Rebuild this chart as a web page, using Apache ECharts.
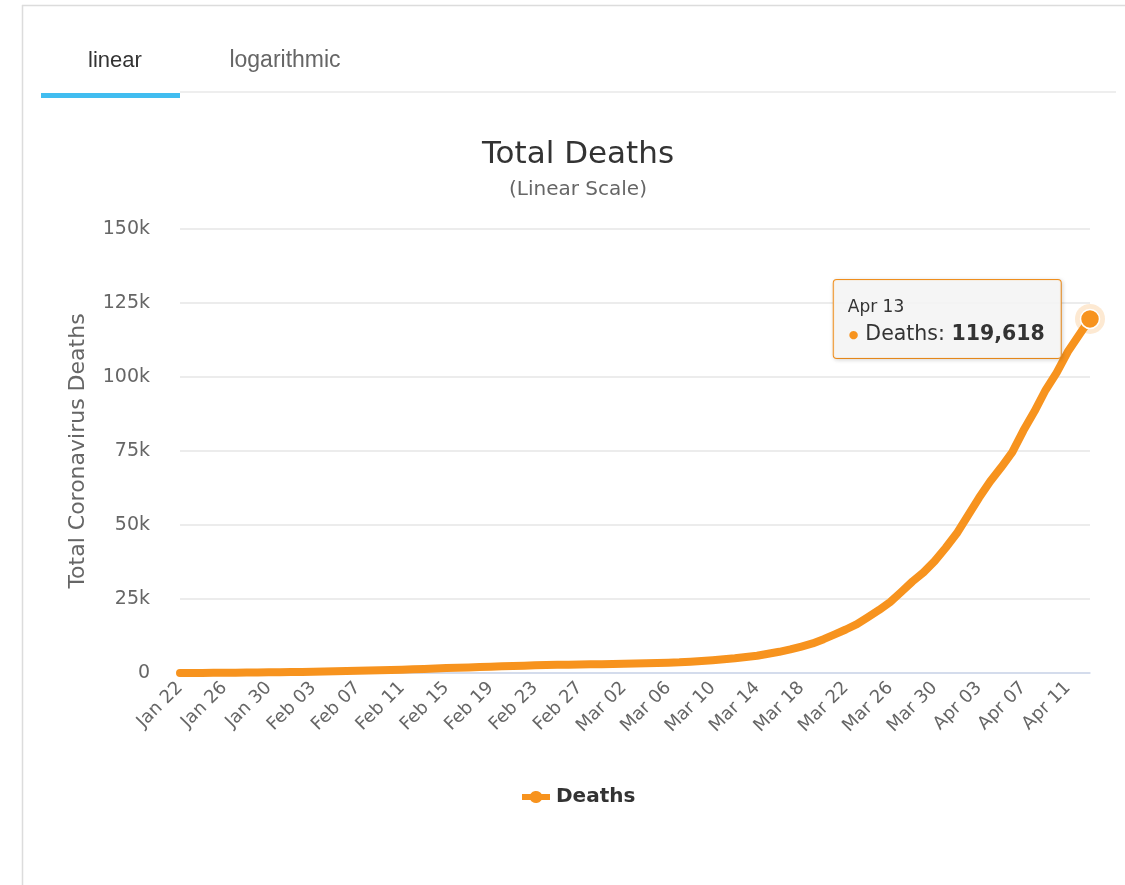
<!DOCTYPE html>
<html>
<head>
<meta charset="utf-8">
<title>Total Deaths</title>
<script src="https://cdn.jsdelivr.net/npm/echarts@6/dist/echarts.min.js"></script>
<style>
  html, body { margin: 0; padding: 0; background: #fff; }
  #chart { width: 1125px; height: 885px; }
</style>
</head>
<body>
<div id="chart"></div>
<script>
// Daily dates, Jan 22 – Apr 13
const categories = [
  'Jan 22','Jan 23','Jan 24','Jan 25','Jan 26','Jan 27','Jan 28','Jan 29','Jan 30','Jan 31',
  'Feb 01','Feb 02','Feb 03','Feb 04','Feb 05','Feb 06','Feb 07','Feb 08','Feb 09','Feb 10',
  'Feb 11','Feb 12','Feb 13','Feb 14','Feb 15','Feb 16','Feb 17','Feb 18','Feb 19','Feb 20',
  'Feb 21','Feb 22','Feb 23','Feb 24','Feb 25','Feb 26','Feb 27','Feb 28','Feb 29',
  'Mar 01','Mar 02','Mar 03','Mar 04','Mar 05','Mar 06','Mar 07','Mar 08','Mar 09','Mar 10',
  'Mar 11','Mar 12','Mar 13','Mar 14','Mar 15','Mar 16','Mar 17','Mar 18','Mar 19','Mar 20',
  'Mar 21','Mar 22','Mar 23','Mar 24','Mar 25','Mar 26','Mar 27','Mar 28','Mar 29','Mar 30','Mar 31',
  'Apr 01','Apr 02','Apr 03','Apr 04','Apr 05','Apr 06','Apr 07','Apr 08','Apr 09','Apr 10',
  'Apr 11','Apr 12','Apr 13'
];

// Cumulative deaths per day
const deaths = [
  17, 25, 41, 56, 80, 106, 132, 170, 213, 259,
  304, 362, 426, 492, 565, 638, 724, 813, 910, 1018,
  1115, 1261, 1383, 1526, 1669, 1775, 1873, 2009, 2126, 2247,
  2360, 2460, 2618, 2699, 2763, 2800, 2858, 2923, 2977,
  3050, 3117, 3202, 3285, 3387, 3494, 3599, 3827, 4025, 4296,
  4628, 4981, 5428, 5833, 6520, 7162, 7979, 8951, 9985, 11433,
  13041, 14700, 16500, 18900, 21300, 24000, 27400, 30900, 34000, 37800, 42300,
  47200, 53200, 59200, 64700, 69500, 74600, 81900, 88400, 95600, 101500,
  108500, 114100, 119618
];

// Y-axis ticks
const yTicks = [0, 25000, 50000, 75000, 100000, 125000, 150000];

const ORANGE = '#f7931e';
const FONT = 'DejaVu Sans';
const last = deaths.length - 1;
const lastDate = categories[last].replace(/ 0(\d)$/, ' $1');

const chart = echarts.init(document.getElementById('chart'), null, { renderer: 'canvas' });

const option = {
  animation: false,
  backgroundColor: '#fff',
  title: {
    text: 'Total Deaths',
    subtext: '(Linear Scale)',
    left: 573,
    textAlign: 'center',
    top: 134,
    itemGap: 10,
    textStyle: { fontFamily: FONT, fontSize: 31, fontWeight: 'normal', color: '#333' },
    subtextStyle: { fontFamily: FONT, fontSize: 20, color: '#666' }
  },
  legend: {
    data: ['Deaths'],
    left: 520,
    top: 787,
    padding: 0,
    itemWidth: 30,
    itemHeight: 16,
    itemGap: 10,
    icon: 'path://M0,4H9A7.5,7.5 0 0,1 21,4H30V12H21A7.5,7.5 0 0,1 9,12H0Z',
    textStyle: { fontFamily: FONT, fontSize: 20, fontWeight: 'bold', color: '#333' }
  },
  grid: { left: 180, right: 35, top: 229, bottom: 212 },
  xAxis: {
    type: 'category',
    data: categories,
    boundaryGap: false,
    axisLine: { show: true, lineStyle: { color: '#ccd6eb', width: 1.5 } },
    axisTick: { show: false },
    axisLabel: {
      interval: 3,
      rotate: 45,
      margin: 12,
      fontFamily: FONT,
      fontSize: 18,
      color: '#666'
    },
    splitLine: { show: false }
  },
  yAxis: {
    type: 'value',
    min: yTicks[0],
    max: yTicks[yTicks.length - 1],
    interval: yTicks[1] - yTicks[0],
    name: 'Total Coronavirus Deaths',
    nameLocation: 'middle',
    nameGap: 91,
    nameTextStyle: { fontFamily: FONT, fontSize: 22, color: '#666' },
    axisLine: { show: false },
    axisTick: { show: false },
    axisLabel: {
      margin: 30,
      fontFamily: FONT,
      fontSize: 19,
      color: '#666',
      formatter: v => v === 0 ? '0' : (v / 1000) + 'k'
    },
    splitLine: { lineStyle: { color: '#e6e6e6', width: 1.5 } }
  },
  graphic: [
    // card borders
    { type: 'line', shape: { x1: 22, y1: 5.5, x2: 1125, y2: 5.5 }, style: { stroke: '#dcdcdc', lineWidth: 1.5 } },
    { type: 'line', shape: { x1: 22.5, y1: 5, x2: 22.5, y2: 885 }, style: { stroke: '#dcdcdc', lineWidth: 1.5 } },
    // tab strip
    { type: 'line', shape: { x1: 180, y1: 92, x2: 1116, y2: 92 }, style: { stroke: '#e8e8e8', lineWidth: 1.5 } },
    { type: 'rect', shape: { x: 41, y: 93, width: 139, height: 5 }, style: { fill: '#41bdf0' } },
    { type: 'text', x: 115, y: 61, style: { text: 'linear', font: '22px "Liberation Sans", Arial, sans-serif', fill: '#333', textAlign: 'center', textVerticalAlign: 'middle' } },
    { type: 'text', x: 285, y: 61, style: { text: 'logarithmic', font: '23px "Liberation Sans", Arial, sans-serif', fill: '#666', textAlign: 'center', textVerticalAlign: 'middle' } }
  ],
  series: [
    {
      name: 'halo',
      type: 'scatter',
      silent: true,
      z: 1,
      symbol: 'circle',
      symbolSize: 30,
      itemStyle: { color: 'rgba(247,147,30,0.25)' },
      data: [[last, deaths[last]]]
    },
    {
      name: 'Deaths',
      type: 'line',
      z: 2,
      data: deaths.map((v, i) => i === last ? {
        value: v,
        label: {
          show: true,
          position: 'left',
          distance: 19,
          formatter: () => '{d|' + lastDate + '}\n{dot|●}{n|Deaths: }{b|' + v.toLocaleString('en-US') + '}',
          backgroundColor: 'rgba(247,247,247,0.9)',
          borderColor: ORANGE,
          borderWidth: 1,
          borderRadius: 3,
          padding: [16, 14, 8, 14],
          shadowColor: 'rgba(0,0,0,0.15)',
          shadowBlur: 4,
          shadowOffsetX: 1,
          shadowOffsetY: 1,
          rich: {
            d: { fontFamily: FONT, fontSize: 17, color: '#333', lineHeight: 24, width: 199, align: 'left' },
            dot: { fontFamily: FONT, fontSize: 11, color: ORANGE, lineHeight: 30, align: 'left', padding: [0, 7, 0, 1] },
            n: { fontFamily: FONT, fontSize: 20.5, color: '#333', lineHeight: 30, align: 'left' },
            b: { fontFamily: FONT, fontSize: 20.5, fontWeight: 'bold', color: '#333', lineHeight: 30, align: 'left' }
          }
        }
      } : v),
      symbol: 'circle',
      showSymbol: true,
      showAllSymbol: true,
      symbolSize: (val, p) => p.dataIndex === last ? 19 : 0,
      itemStyle: { color: ORANGE, borderColor: '#fff', borderWidth: 1.5 },
      lineStyle: { color: ORANGE, width: 8, cap: 'round', join: 'round' },
      emphasis: { disabled: true }
    }
  ]
};

chart.setOption(option);
</script>
</body>
</html>
